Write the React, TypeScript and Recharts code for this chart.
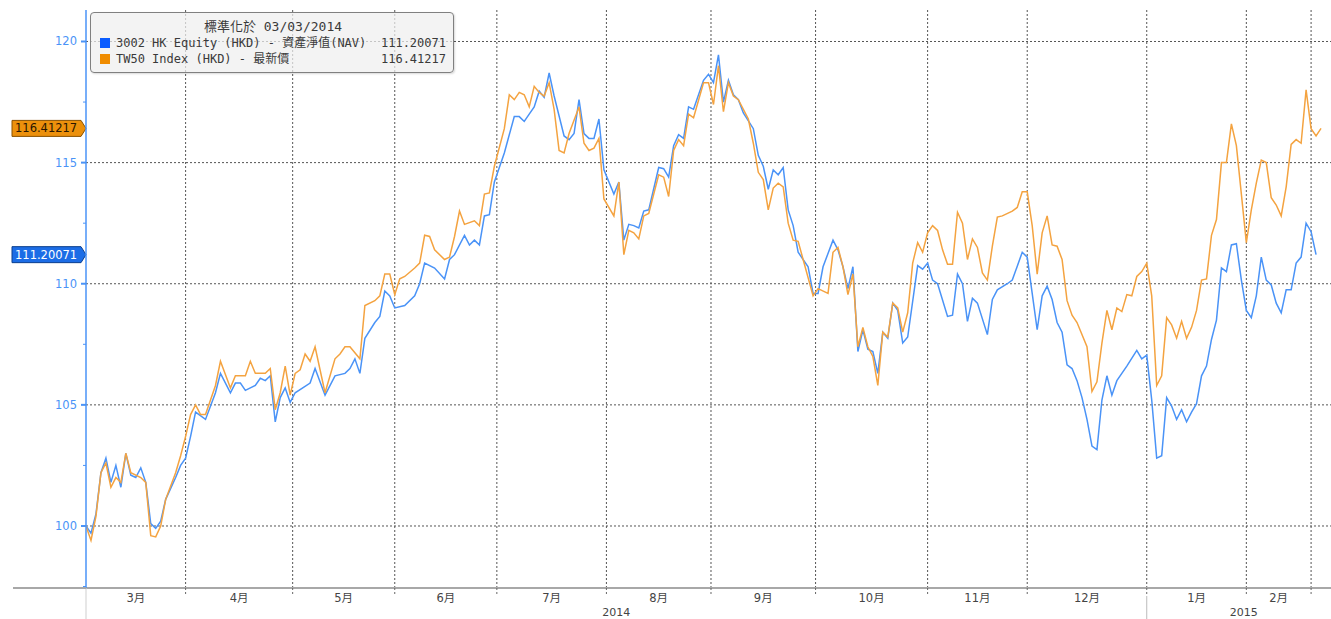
import {
  LineChart,
  Line,
  XAxis,
  YAxis,
  CartesianGrid,
  ReferenceLine,
  Legend,
} from "recharts";

// trading-day index since 03/03/2014 -> normalised value
const navDays = [
  0, 1, 2, 3, 4, 5, 6, 7, 8, 9, 10, 11, 12, 13, 14, 15, 16, 18, 19, 20, 21, 22,
  24, 26, 27, 29, 30, 31, 32, 34, 35, 36, 37, 38, 39, 40, 41, 42, 45, 46, 48, 50,
  52, 53, 54, 55, 56, 58, 59, 60, 61, 62, 64, 66, 67, 68, 70, 72, 73, 74, 76, 77,
  78, 79, 80, 81, 82, 84, 86, 87, 88, 89, 90, 91, 92, 93, 94, 96, 97, 98, 99, 100,
  101, 102, 103, 104, 106, 107, 108, 109, 110, 111, 112, 113, 115, 116, 117, 118,
  119, 120, 121, 122, 124, 125, 126, 127, 128, 129, 130, 131, 132, 134, 135, 136,
  137, 138, 139, 140, 141, 142, 143, 145, 146, 147, 148, 150, 151, 152, 153, 154,
  155, 156, 157, 158, 159, 160, 161, 162, 163, 164, 165, 167, 168, 169, 170, 171,
  173, 174, 175, 176, 177, 178, 179, 181, 182, 183, 185, 186, 188, 189, 190, 191,
  192, 193, 194, 195, 196, 197, 198, 199, 200, 201, 202, 203, 204, 205, 206, 207,
  209, 211, 212, 213, 214, 215, 216, 217, 218, 219, 220, 221, 222, 223, 224, 225,
  226, 227, 228, 229, 230, 231, 232, 233, 234, 235, 236, 237, 238, 239, 240, 241,
  242, 243, 244, 245, 246, 247,
];
const navValues = [
  100.0, 99.7, 100.5, 102.2, 102.8, 101.8, 102.5, 101.6, 103.0, 102.1, 102.0,
  102.4, 101.8, 100.1, 99.9, 100.2, 101.1, 102.0, 102.5, 102.8, 103.7, 104.7,
  104.4, 105.5, 106.3, 105.5, 105.9, 105.9, 105.6, 105.8, 106.1, 106.0, 106.2,
  104.3, 105.3, 105.7, 105.1, 105.5, 105.9, 106.5, 105.4, 106.2, 106.3, 106.5,
  106.9, 106.3, 107.75, 108.4, 108.65, 109.7, 109.5, 109.0, 109.1, 109.5, 110.0,
  110.85, 110.65, 110.2, 111.0, 111.2, 112.0, 111.6, 111.8, 111.6, 112.8, 112.85,
  114.2, 115.4, 116.9, 116.9, 116.7, 117.0, 117.3, 117.95, 117.7, 118.7, 117.75,
  116.1, 115.95, 116.2, 117.6, 116.2, 116.0, 116.0, 116.8, 114.7, 113.7, 114.2,
  111.8, 112.45, 112.4, 112.3, 113.0, 113.05, 114.8, 114.75, 114.4, 115.7,
  116.15, 116.0, 117.3, 117.2, 118.4, 118.65, 118.3, 119.45, 117.5, 118.4, 117.8,
  117.6, 117.05, 116.4, 115.3, 114.85, 113.9, 114.7, 114.5, 114.8, 113.05, 112.4,
  111.3, 110.7, 109.6, 109.6, 110.7, 111.8, 111.4, 110.7, 109.8, 110.7, 107.2,
  108.1, 107.3, 107.2, 106.3, 108.0, 107.75, 109.2, 108.9, 107.55, 107.8, 110.75,
  110.6, 110.85, 110.15, 110.0, 108.65, 108.7, 110.4, 110.0, 108.45, 109.4, 109.2,
  107.9, 109.35, 109.75, 110.0, 110.15, 111.3, 111.1, 109.6, 108.1, 109.5, 109.9,
  109.35, 108.4, 108.0, 106.65, 106.5, 106.0, 105.3, 104.4, 103.3, 103.15, 105.2,
  106.2, 105.4, 106.0, 106.6, 107.25, 106.9, 107.05, 105.2, 102.8, 102.9, 105.3,
  104.95, 104.4, 104.8, 104.3, 104.7, 105.05, 106.2, 106.6, 107.7, 108.5, 110.65,
  110.5, 111.6, 111.65, 110.15, 108.9, 108.6, 109.5, 111.1, 110.15, 109.95, 109.2,
  108.8, 109.75, 109.75, 110.85, 111.1, 112.5, 112.15, 111.20071,
];

const tw50Days = [
  0, 1, 2, 3, 4, 5, 6, 7, 8, 9, 11, 12, 13, 14, 15, 16, 18, 19, 20, 21, 22, 23,
  24, 26, 27, 29, 30, 32, 33, 34, 36, 37, 38, 39, 40, 41, 42, 43, 44, 45, 46, 48,
  50, 51, 52, 53, 55, 56, 58, 59, 60, 61, 62, 63, 64, 66, 67, 68, 69, 70, 72, 73,
  74, 75, 76, 78, 79, 80, 81, 82, 84, 85, 86, 87, 88, 89, 90, 91, 92, 93, 94, 95,
  96, 97, 99, 100, 101, 102, 103, 104, 106, 107, 108, 109, 110, 111, 112, 113, 115,
  116, 117, 118, 119, 120, 121, 122, 124, 125, 126, 127, 128, 129, 130, 131, 133,
  134, 135, 136, 137, 138, 139, 140, 141, 142, 143, 144, 146, 147, 149, 150, 151,
  152, 153, 154, 155, 156, 157, 158, 159, 160, 161, 162, 163, 164, 165, 166, 167,
  168, 169, 170, 171, 172, 173, 174, 175, 176, 177, 178, 179, 180, 181, 182, 183,
  184, 186, 187, 188, 189, 190, 191, 192, 193, 194, 195, 196, 197, 198, 199, 201,
  202, 203, 204, 205, 206, 207, 208, 209, 210, 211, 212, 213, 214, 215, 216, 217,
  218, 219, 220, 221, 222, 223, 224, 225, 226, 227, 228, 229, 230, 231, 232, 233,
  234, 235, 236, 237, 238, 239, 240, 241, 242, 243, 244, 245, 246, 247, 248,
];
const tw50Values = [
  100.0, 99.4, 100.4, 102.2, 102.6, 101.6, 102.0, 101.8, 103.0, 102.2, 102.0,
  101.8, 99.6, 99.55, 100.0, 101.1, 102.2, 102.9, 103.7, 104.6, 105.0, 104.6,
  104.6, 105.8, 106.8, 105.7, 106.2, 106.2, 106.8, 106.3, 106.3, 106.5, 104.8,
  105.5, 106.6, 105.4, 106.3, 106.45, 107.1, 106.8, 107.4, 105.5, 106.9, 107.1,
  107.4, 107.4, 106.9, 109.1, 109.3, 109.5, 110.4, 110.4, 109.55, 110.2, 110.3,
  110.65, 110.85, 112.0, 111.95, 111.4, 111.0, 111.1, 111.95, 113.0, 112.45,
  112.6, 112.4, 113.7, 113.75, 114.85, 116.4, 117.8, 117.6, 117.9, 117.8, 117.3,
  118.15, 117.9, 117.75, 118.3, 117.2, 115.5, 115.4, 116.2, 117.3, 115.8, 115.5,
  115.6, 116.0, 113.5, 112.8, 114.2, 111.2, 112.2, 112.1, 111.85, 112.8, 112.9,
  114.5, 114.4, 113.6, 115.5, 115.95, 115.7, 117.0, 116.85, 118.3, 118.3, 117.4,
  119.0, 117.1, 118.3, 117.75, 117.6, 116.8, 115.8, 114.6, 114.3, 113.05, 113.95,
  114.15, 114.0, 112.5, 111.8, 111.75, 111.0, 109.5, 109.8, 109.6, 111.3, 111.5,
  110.7, 109.55, 110.4, 107.4, 108.2, 107.4, 107.0, 105.8, 108.0, 107.8, 109.2,
  109.0, 108.0, 108.8, 110.85, 111.7, 111.3, 112.1, 112.4, 112.2, 111.4, 110.8,
  110.8, 112.95, 112.5, 111.0, 111.85, 111.5, 110.45, 110.15, 111.55, 112.75,
  112.8, 113.0, 113.15, 113.8, 113.8, 112.4, 110.4, 112.1, 112.8, 111.6, 111.55,
  111.0, 109.3, 108.7, 108.4, 107.4, 105.55, 105.95, 107.55, 108.9, 108.1, 109.0,
  108.85, 109.55, 109.5, 110.3, 110.5, 110.85, 109.5, 105.8, 106.2, 108.6, 108.3,
  107.75, 108.45, 107.75, 108.2, 108.9, 110.15, 110.2, 112.0, 112.65, 115.0,
  115.0, 116.6, 115.7, 113.7, 111.7, 113.05, 114.15, 115.1, 115.0, 113.55, 113.25,
  112.8, 114.0, 115.75, 115.95, 115.8, 118.0, 116.4, 116.1, 116.41217,
];

const monthLabels = ["3月", "4月", "5月", "6月", "7月", "8月", "9月", "10月", "11月", "12月", "1月", "2月"];
const monthStarts = [0, 20, 41.5, 62, 82.5, 104.5, 125.5, 146.5, 169, 189, 213, 233, 246];
const yearLabels = ["2014", "2015"];
const yearStarts = [0, 213, 252];
const yTicks = [97.5, 100, 102.5, 105, 107.5, 110, 112.5, 115, 117.5, 120];

const navLast = navValues[navValues.length - 1];
const tw50Last = tw50Values[tw50Values.length - 1];

const navData = navDays.map((day, i) => ({ day, v: navValues[i] }));
const tw50Data = tw50Days.map((day, i) => ({ day, v: tw50Values[i] }));

const boundaries = monthStarts.slice(1);
const monthMids = monthLabels.map((_, i) => (monthStarts[i] + monthStarts[i + 1]) / 2);
const yearMids = yearLabels.map((_, i) => (yearStarts[i] + yearStarts[i + 1]) / 2);
const xTicks = [0, ...boundaries, ...monthMids, ...yearMids].sort((a, b) => a - b);

const AXIS_BLUE = "#4a93f7";
const NAV_COLOR = "#4a93f7";
const TW50_COLOR = "#f4a340";
const TEXT_FONT = "'DejaVu Sans', 'Noto Sans CJK TC', sans-serif";
const MONO_FONT = "'DejaVu Sans Mono', 'Noto Sans CJK TC', monospace";

function XTick(props: any) {
  const { x, y, payload } = props;
  const v = payload.value;
  const mi = monthMids.indexOf(v);
  if (mi >= 0) {
    return (
      <text x={x} y={y + 14} textAnchor="middle" fontSize={11.5} fill="#444" fontFamily={TEXT_FONT}>
        {monthLabels[mi]}
      </text>
    );
  }
  const yi = yearMids.indexOf(v);
  if (yi >= 0) {
    return (
      <text x={x} y={y + 28} textAnchor="middle" fontSize={11} fill="#444" fontFamily={TEXT_FONT}>
        {yearLabels[yi]}
      </text>
    );
  }
  if (v === 0) {
    return (
      <g>
        <line x1={x} x2={x} y1={y} y2={y + 31} stroke="#cfcfcf" />
        <line x1={x - 73} x2={x} y1={y} y2={y} stroke="#a8a8a8" strokeWidth={2} />
      </g>
    );
  }
  return (
    <g>
      <line x1={x} x2={x} y1={y} y2={y + 8} stroke="#666" strokeDasharray="2 2" />
      {v === yearStarts[1] && <line x1={x} x2={x} y1={y + 8} y2={y + 31} stroke="#bbb" />}
    </g>
  );
}

function YTick(props: any) {
  const { x, y, payload } = props;
  const v = payload.value;
  const major = v % 5 === 0;
  return (
    <g>
      <line x1={x - (major ? 5 : 3)} x2={x} y1={y} y2={y} stroke={AXIS_BLUE} strokeWidth={major ? 2 : 1} />
      {major && (
        <text x={x - 9} y={y + 4} textAnchor="end" fontSize={11.5} fill={AXIS_BLUE} fontFamily={TEXT_FONT}>
          {v}
        </text>
      )}
    </g>
  );
}

function ValueTag(props: any) {
  const { viewBox, text, fill, stroke, color } = props;
  if (!viewBox) return null;
  const x = viewBox.x;
  const y = viewBox.y;
  const h = 8;
  const pts = `${x - 74},${y - h} ${x - 5},${y - h} ${x},${y} ${x - 5},${y + h} ${x - 74},${y + h}`;
  return (
    <g>
      <polygon points={pts} fill={fill} stroke={stroke} strokeWidth={1} />
      <text x={x - 71} y={y + 4} fontSize={11.5} fill={color} fontFamily={TEXT_FONT}>
        {text}
      </text>
    </g>
  );
}

function LegendBox() {
  const row = { display: "flex", alignItems: "center", height: 16 } as const;
  const swatch = (c: string) => ({ width: 10, height: 10, background: c, marginRight: 6 });
  return (
    <div
      style={{
        boxSizing: "border-box",
        width: 364,
        height: 61,
        padding: "6px 7px 0 9px",
        background: "rgba(238,238,238,0.72)",
        border: "1px solid #808080",
        borderRadius: 4,
        fontFamily: MONO_FONT,
        fontSize: 12,
        color: "#3a3a3a",
        lineHeight: "16px",
        whiteSpace: "nowrap",
        boxShadow: "1px 1px 2px rgba(0,0,0,0.15)",
      }}
    >
      <div style={{ textAlign: "center", height: 16, fontSize: 13 }}>標準化於 03/03/2014</div>
      <div style={row}>
        <span style={swatch("#0a5cff")} />
        <span>3002 HK Equity (HKD) - 資產淨值(NAV)</span>
        <span style={{ marginLeft: "auto" }}>{navLast.toFixed(5)}</span>
      </div>
      <div style={row}>
        <span style={swatch("#f08c00")} />
        <span>TW50 Index (HKD) - 最新價</span>
        <span style={{ marginLeft: "auto" }}>{tw50Last.toFixed(5)}</span>
      </div>
    </div>
  );
}

export default function App() {
  return (
    <div style={{ position: "absolute", left: 0, top: 0, width: 1331, height: 619, background: "#fff" }}>
      <LineChart width={1331} height={619} margin={{ top: 10, right: 0, bottom: 0, left: 0 }}>
        <CartesianGrid
          stroke="#555"
          strokeDasharray="2 2"
          horizontalValues={[100, 105, 110, 115, 120]}
          verticalValues={boundaries}
        />
        <XAxis
          dataKey="day"
          type="number"
          domain={[0, 250]}
          allowDataOverflow
          ticks={xTicks}
          interval={0}
          height={31}
          tickSize={0}
          tickMargin={0}
          tickLine={false}
          axisLine={{ stroke: "#a8a8a8", strokeWidth: 2 }}
          tick={<XTick />}
        />
        <YAxis
          type="number"
          domain={[97.44, 121.3]}
          allowDataOverflow
          ticks={yTicks}
          interval={0}
          width={86}
          tickSize={0}
          tickMargin={0}
          tickLine={false}
          axisLine={{ stroke: AXIS_BLUE, strokeWidth: 1.5 }}
          tick={<YTick />}
        />
        <Legend
          layout="vertical"
          align="center"
          verticalAlign="middle"
          wrapperStyle={{ left: 90, top: 12, width: 364, height: 61 }}
          content={() => <LegendBox />}
        />
        <ReferenceLine
          y={tw50Last}
          stroke="none"
          label={<ValueTag text={tw50Last.toFixed(5)} fill="#ec900c" stroke="#8a5200" color="#2a1600" />}
        />
        <ReferenceLine
          y={navLast}
          stroke="none"
          label={<ValueTag text={navLast.toFixed(5)} fill="#1c6de6" stroke="#0b3f8f" color="#ffffff" />}
        />
        <Line
          data={navData}
          dataKey="v"
          type="linear"
          stroke={NAV_COLOR}
          strokeWidth={1.5}
          dot={false}
          isAnimationActive={false}
        />
        <Line
          data={tw50Data}
          dataKey="v"
          type="linear"
          stroke={TW50_COLOR}
          strokeWidth={1.5}
          dot={false}
          isAnimationActive={false}
        />
      </LineChart>
    </div>
  );
}
